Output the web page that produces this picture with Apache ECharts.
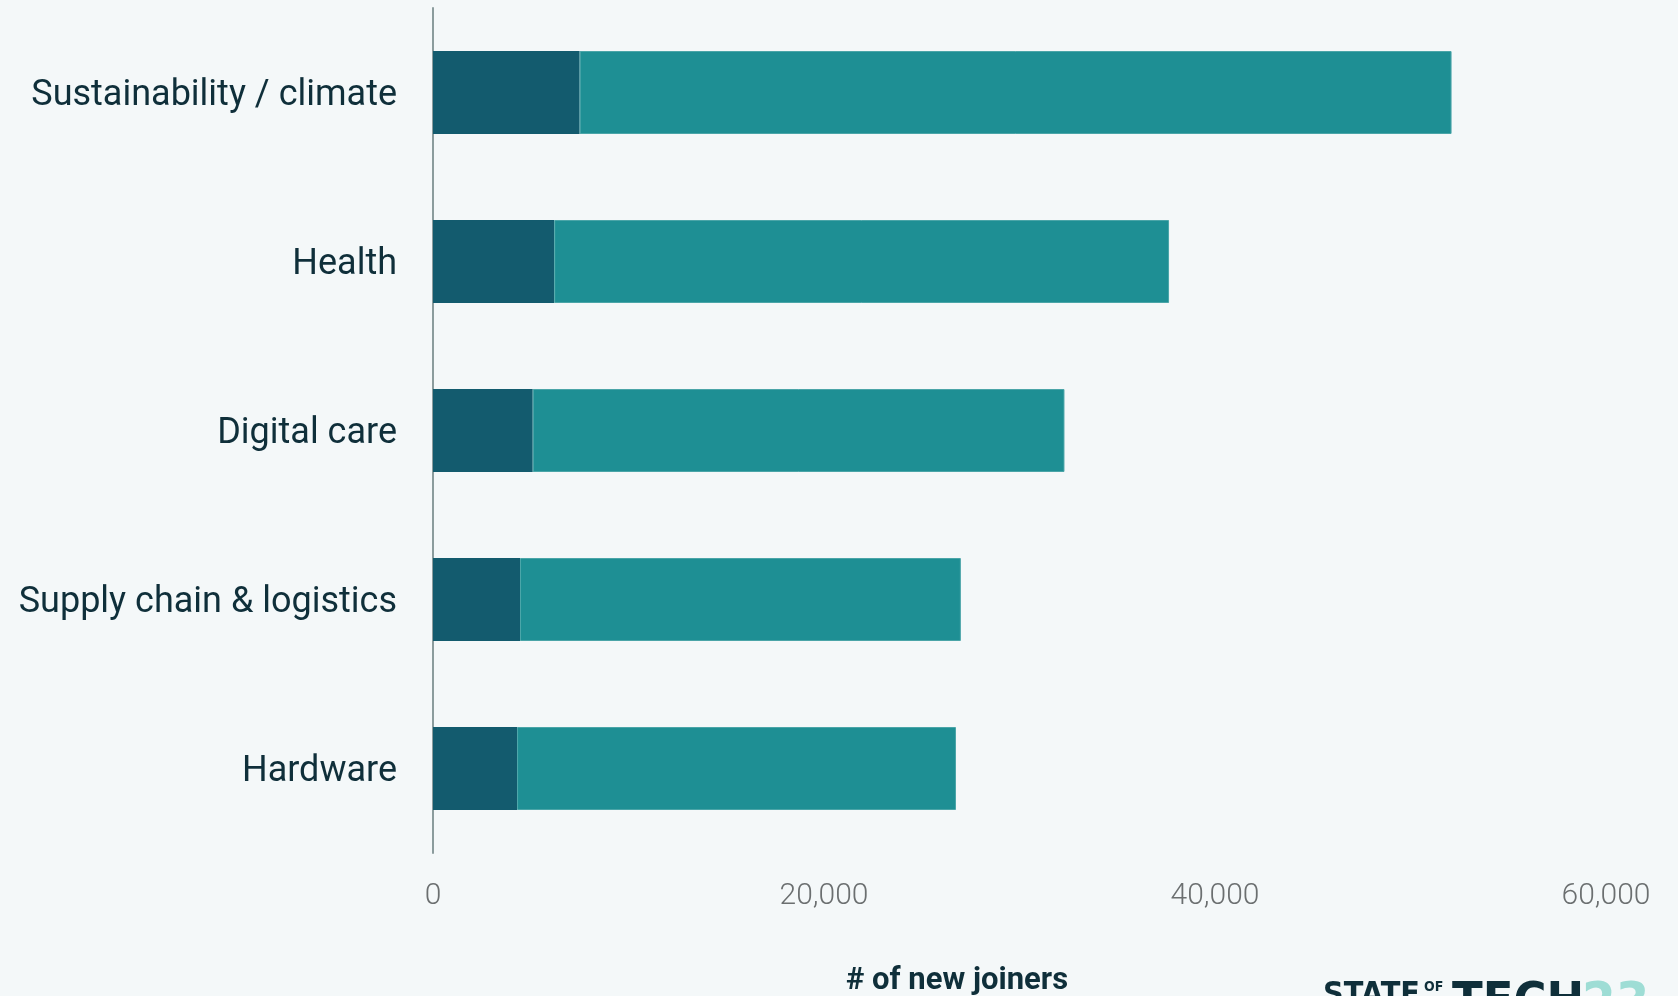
<!DOCTYPE html>
<html>
<head>
<meta charset="utf-8">
<script src="https://cdn.jsdelivr.net/npm/echarts@6/dist/echarts.min.js"></script>
<style>
html,body{margin:0;padding:0;background:#F4F8F9;}
#chart{width:1678px;height:996px;}
</style>
</head>
<body>
<div id="chart"></div>
<script>
const categories = ["Sustainability / climate", "Health", "Digital care", "Supply chain & logistics", "Hardware"];
const darkValues = [7500, 6200, 5100, 4450, 4300];
const tealValues = [44600, 31450, 27200, 22550, 22450];
const xTicks = [0, 20000, 40000, 60000];
const axisName = "# of new joiners";

const chart = echarts.init(document.getElementById('chart'), null, {renderer: 'canvas'});
chart.setOption({
  backgroundColor: '#F4F8F9',
  animation: false,
  grid: {left: 433, right: 72, top: 8, bottom: 143, containLabel: false},
  xAxis: {
    type: 'value',
    min: xTicks[0], max: xTicks[xTicks.length - 1], interval: xTicks[1] - xTicks[0],
    axisLine: {show: false},
    axisTick: {show: false},
    splitLine: {show: false},
    axisLabel: {
      margin: 28,
      color: '#6B6F70',
      fontFamily: 'Roboto',
      fontWeight: 300,
      fontSize: 30,
      formatter: v => v.toLocaleString('en-US')
    }
  },
  yAxis: {
    type: 'category',
    data: categories,
    inverse: true,
    axisLine: {show: true, lineStyle: {color: '#8B9C9D', width: 2}},
    axisTick: {show: false},
    axisLabel: {
      margin: 36,
      formatter: v => '{c|' + v + '}',
      rich: {
        c: {
          color: '#0F2F3A',
          fontFamily: 'Roboto',
          fontSize: 36,
          lineHeight: 42,
          padding: [7, 0, 0, 0]
        }
      }
    }
  },
  series: [
    {
      name: 'Dark', type: 'bar', stack: 'total', data: darkValues, barWidth: 83,
      itemStyle: {color: '#135B6E'}
    },
    {
      name: 'Teal', type: 'bar', stack: 'total', data: tealValues, barWidth: 83,
      itemStyle: {color: '#1E8F94', borderColor: '#4AA5A8', borderWidth: 1}
    }
  ],
  graphic: [
    {type: 'text', left: 846, top: 966,
     style: {text: axisName, fill: '#0F2F3A', font: 'bold 31px Roboto'}},
    {type: 'text', left: 1323, top: 980,
     style: {text: 'STATE', fill: '#0F2F3A', font: 'bold 32px "DejaVu Sans Condensed", Roboto'}},
    {type: 'text', left: 1424, top: 980,
     style: {text: 'OF', fill: '#0F2F3A', font: 'bold 14px "DejaVu Sans Condensed", Roboto'}},
    {type: 'text', left: 1452, top: 979,
     style: {text: 'TECH', fill: '#0F2F3A', font: 'bold 50px "DejaVu Sans Condensed", Roboto'}},
    {type: 'text', left: 1582, top: 979,
     style: {text: '23', fill: '#9EDDD5', font: 'bold 54px "DejaVu Sans Condensed", Roboto'}}
  ]
});
</script>
</body>
</html>
